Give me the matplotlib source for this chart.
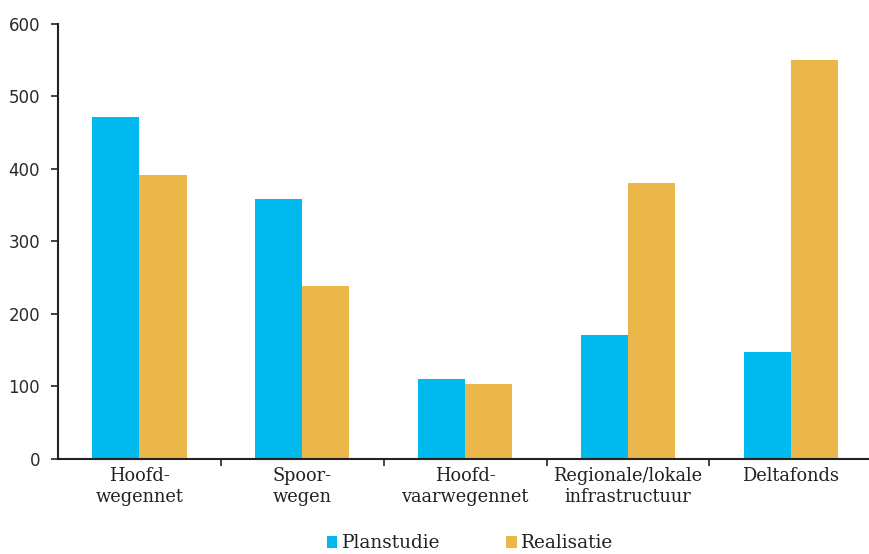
import matplotlib.pyplot as plt
import numpy as np

categories = ['Hoofd-\nwegennet', 'Spoor-\nwegen', 'Hoofd-\nvaarwegennet',
              'Regionale/lokale\ninfrastructuur', 'Deltafonds']
planstudie = [472, 359, 111, 171, 147]
realisatie = [392, 239, 103, 380, 550]
yticks = [0, 100, 200, 300, 400, 500, 600]

blue = '#00B9EF'
orange = '#EBB64A'
dark = '#222222'

fig = plt.figure(figsize=(8.69, 5.54), dpi=100)
ax = fig.add_axes([0.0667, 0.1715, 0.9333, 0.7852])

x = np.arange(len(categories))
w = 0.29
ax.bar(x - w / 2, planstudie, w, color=blue, label='Planstudie')
ax.bar(x + w / 2, realisatie, w, color=orange, label='Realisatie')

ax.set_xlim(-0.5, 4.48)
ax.set_ylim(0, 600)
ax.set_yticks(yticks)
ax.tick_params(axis='y', direction='out', length=5, width=1.2, color=dark,
               pad=8, labelsize=12, labelcolor='#2a2a2a')
for lbl in ax.get_yticklabels():
    lbl.set_family('DejaVu Sans')

# category labels centred under each group, tick marks between groups
ax.set_xticks(x)
ax.set_xticklabels(categories, family='DejaVu Serif', fontsize=12.8,
                   color=dark, linespacing=1.2)
ax.tick_params(axis='x', which='major', length=0, pad=6)
ax.set_xticks(np.arange(0.5, 4.0, 1.0), minor=True)
ax.tick_params(axis='x', which='minor', direction='out', length=5,
               width=1.2, color=dark)

for side in ['top', 'right']:
    ax.spines[side].set_visible(False)
for side in ['left', 'bottom']:
    ax.spines[side].set_color(dark)
    ax.spines[side].set_linewidth(1.5)

leg = fig.legend(loc='lower center', bbox_to_anchor=(0.541, -0.027), ncol=2,
                 frameon=False, handlelength=0.58, handleheight=0.58,
                 handletextpad=0.25, columnspacing=3.55,
                 prop={'family': 'DejaVu Serif', 'size': 13.3})
for t in leg.get_texts():
    t.set_color(dark)

fig.savefig('out.png', dpi=100)
